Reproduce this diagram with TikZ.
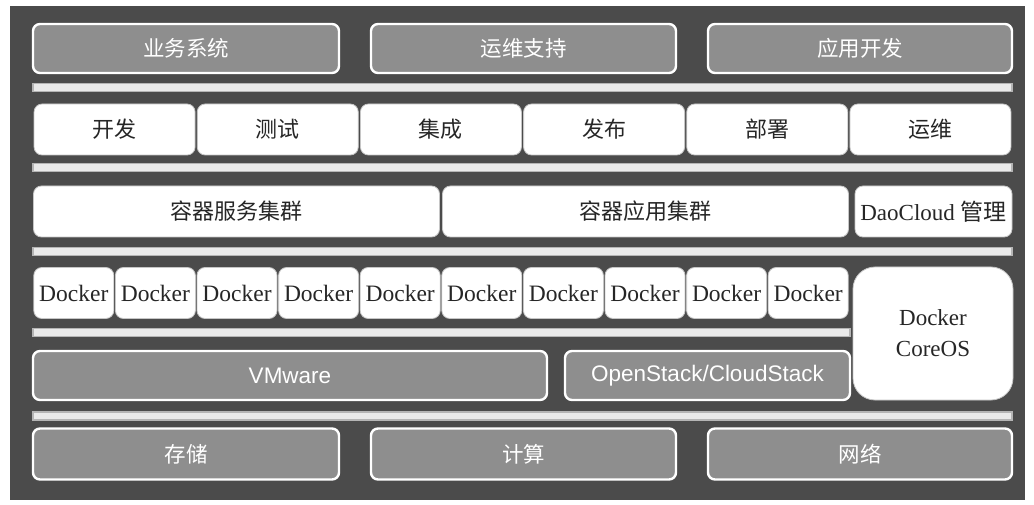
\documentclass[tikz,border=0pt]{standalone}
\usepackage{fontspec}
\setmainfont{Liberation Serif}
\newfontfamily\cjk{Noto Sans CJK SC}
\newfontfamily\arialf{Liberation Sans}
\definecolor{bgdark}{HTML}{4B4B4B}
\definecolor{boxgray}{HTML}{8E8E8E}
\definecolor{barline}{HTML}{B5B5B5}
\definecolor{barfill}{HTML}{EAEAEA}
\begin{document}
\begin{tikzpicture}[x=1pt,y=-1pt,
  graybox/.style={draw=white,line width=2.4pt,fill=boxgray,rounded corners=7pt,
     text=white,inner sep=0pt,font=\fontsize{21.5}{25}\selectfont},
  whitebox/.style={draw=gray!45,line width=0.8pt,fill=white,rounded corners=8pt,
     text=black!85,inner sep=0pt,font=\fontsize{22}{25}\selectfont},
  dockbox/.style={whitebox,minimum width=80pt,minimum height=51pt,font=\fontsize{23.5}{25}\selectfont},
  sepbar/.style={draw=barline,line width=1.6pt,fill=barfill}
]
\useasboundingbox (0,0) rectangle (1034,505);
\fill[white] (0,0) rectangle (1034,505);
\fill[bgdark] (10,6) rectangle (1025,500);
% row 1
\node[graybox,minimum width=306pt,minimum height=49pt] (b1) at (186,48.5) {\cjk 业务系统};
\node[graybox,minimum width=305pt,minimum height=49pt] (b2) at (523.5,48.5) {\cjk 运维支持};
\node[graybox,minimum width=304pt,minimum height=49pt] (b3) at (860,48.5) {\cjk 应用开发};
% bar 1
\path[sepbar] (33,83.5) rectangle (1012,91.5);
% row 2
\foreach \t [count=\i from 0] in {开发,测试,集成,发布,部署,运维}{
  \node[whitebox,minimum width=161pt,minimum height=51pt] (d\i) at ({33+163.17*(\i+0.5)},129.5) {\cjk \t};
}
% bar 2
\path[sepbar] (33,163.5) rectangle (1012,171.5);
% row 3
\node[whitebox,minimum width=406pt,minimum height=51pt] (c1) at (236.5,211.5) {\cjk 容器服务集群};
\node[whitebox,minimum width=406pt,minimum height=51pt] (c2) at (645.5,211.5) {\cjk 容器应用集群};
\node[whitebox,minimum width=157pt,minimum height=51pt,font=\fontsize{23}{25}\selectfont] (c3) at (933.5,211.5) {DaoCloud {\cjk 管理}};
% bar 3
\path[sepbar] (33,247.5) rectangle (1012,255.5);
% row 4
\foreach \i in {0,...,9}{
  \node[dockbox] (k\i) at ({33+81.6*(\i+0.5)},293) {Docker};
}
\node[whitebox,rounded corners=22pt,minimum width=160pt,minimum height=133pt,align=center,
  font=\fontsize{23}{31}\selectfont] (core) at (933,333.5) {Docker\\CoreOS};
% bar 4
\path[sepbar] (33,328.5) rectangle (850,336.5);
% row 5
\node[graybox,minimum width=514pt,minimum height=49pt,font=\arialf\fontsize{22.5}{25}\selectfont] (vm) at (290,375.5) {VMware};
\node[graybox,minimum width=285pt,minimum height=49pt,font=\arialf\fontsize{22.5}{25}\selectfont] (os) at (707.5,375.5) {OpenStack/CloudStack};
% bar 5
\path[sepbar] (33,412) rectangle (1012,420);
% row 6
\node[graybox,minimum width=306pt,minimum height=51pt] (s1) at (186,454) {\cjk 存储};
\node[graybox,minimum width=305pt,minimum height=51pt] (s2) at (523.5,454) {\cjk 计算};
\node[graybox,minimum width=304pt,minimum height=51pt] (s3) at (860,454) {\cjk 网络};
\end{tikzpicture}
\end{document}
